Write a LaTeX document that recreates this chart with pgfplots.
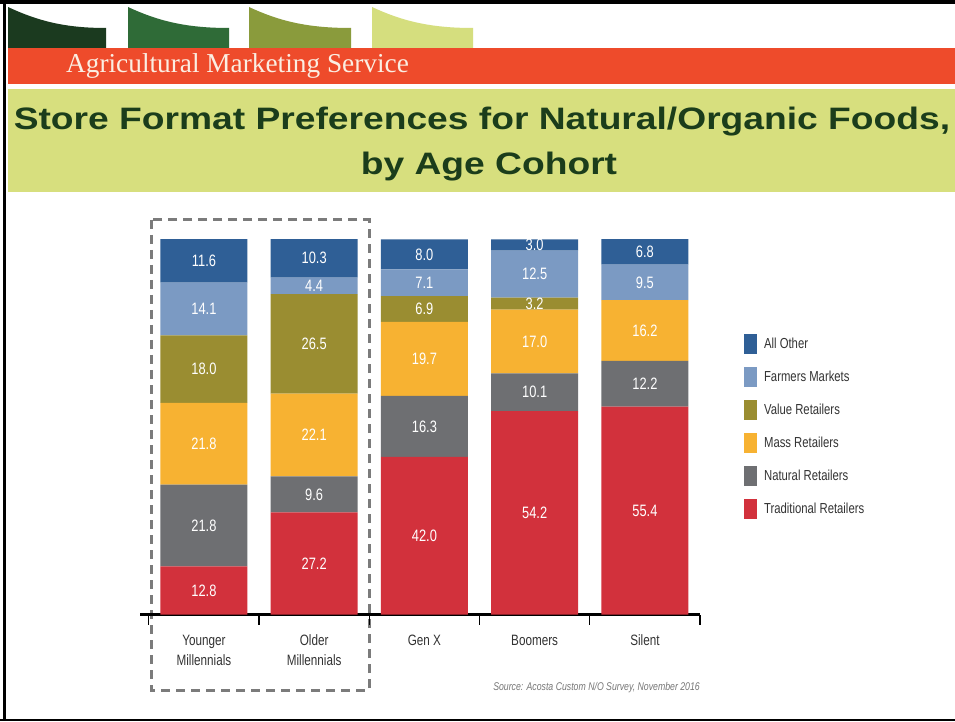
\documentclass[border=0pt]{standalone}
\usepackage{fontspec}
\setmainfont{Liberation Sans}
\newfontfamily\serifhead{Liberation Serif}
\newfontfamily\cond[FakeStretch=0.78]{Liberation Sans}
\newfontfamily\titlefont[FakeStretch=1.2]{Liberation Sans}
\usepackage{pgfplots}
\pgfplotsset{compat=1.18}
\definecolor{gA}{HTML}{1B3A1F}
\definecolor{gB}{HTML}{2F6B37}
\definecolor{gC}{HTML}{8A9B3C}
\definecolor{gD}{HTML}{D5DE7E}
\definecolor{bandorange}{HTML}{EE4B2B}
\definecolor{titleband}{HTML}{D7DF7E}
\definecolor{titlegreen}{HTML}{1B3D1B}
\definecolor{allother}{HTML}{2F5F96}
\definecolor{farmers}{HTML}{7B9AC3}
\definecolor{valuer}{HTML}{9A8D31}
\definecolor{massr}{HTML}{F7B232}
\definecolor{naturalr}{HTML}{6E6F72}
\definecolor{tradr}{HTML}{D2313C}
\definecolor{labelgray}{HTML}{333333}
\definecolor{dashgray}{HTML}{7B7B7B}
\definecolor{cream}{HTML}{FBEEE2}
\definecolor{srcgray}{HTML}{777777}
\begin{document}
\begin{tikzpicture}[x=1pt,y=1pt]
\useasboundingbox (0,0) rectangle (955,721);
\fill[white] (0,0) rectangle (955,721);
% header shapes
\fill[gA] (8,673) -- (8,714) .. controls (38,700) and (65,693) .. (106,693) -- (106,673) -- cycle;
\fill[gB] (128,673) -- (128,714) .. controls (158,700) and (186,693) .. (229,693) -- (229,673) -- cycle;
\fill[gC] (249,673) -- (249,714) .. controls (279,700) and (307,693) .. (351,693) -- (351,673) -- cycle;
\fill[gD] (372,673) -- (372,714) .. controls (402,700) and (430,693) .. (473,693) -- (473,673) -- cycle;
\fill[bandorange] (8,637) rectangle (955,673);
\fill[titleband] (8,529) rectangle (955,632);
\node[anchor=base west, inner sep=0pt, text=cream, font=\serifhead\fontsize{27.3}{30}\selectfont] at (66,648) {Agricultural Marketing Service};
\node[anchor=base, inner sep=0pt, text=titlegreen, font=\titlefont\bfseries\fontsize{31}{36}\selectfont] at (482,591) {Store Format Preferences for Natural/Organic Foods,};
\node[anchor=base, inner sep=0pt, text=titlegreen, font=\titlefont\bfseries\fontsize{31}{36}\selectfont] at (489,546) {by Age Cohort};
% borders
\fill[black] (0,717) rectangle (955,721);
\fill[black] (3,0) rectangle (6,721);
\fill[black] (0,0) rectangle (955,2.5);
% dashed box
\draw[dashgray, line width=3pt, dash pattern=on 9pt off 6pt] (151,501) rectangle (369,31);
\begin{axis}[
  at={(140pt,106.5pt)}, anchor=south west,
  scale only axis, width=560pt, height=375.5pt,
  xmin=-0.58, xmax=4.5, ymin=0, ymax=100.1,
  ybar stacked, bar width=0.79,
  axis x line=bottom, axis y line=none,
  x axis line style={line width=3pt, -},
  xtick={0,1,2,3,4},
  xticklabels={{Younger\\Millennials},{Older\\Millennials},{Gen X},{Boomers},{Silent}},
  major tick length=0pt,
  minor xtick={-0.5,0.5,1.5,2.5,3.5,4.5},
  minor tick length=10pt, tick align=outside,
  minor tick style={line width=1.2pt, black},
  xticklabel style={align=center, text=labelgray, font=\cond\fontsize{15}{20}\selectfont, yshift=-17pt},
  point meta=explicit symbolic,
  nodes near coords,
  every node near coord/.append style={anchor=center, text=white, font=\cond\fontsize{16.5}{18}\selectfont},
  legend image code/.code={\fill[#1] (0pt,-10pt) rectangle (13pt,10pt);},
  reverse legend,
  legend style={at={(1.073,0.752)}, anchor=north west, draw=none, fill=none,
    font=\cond\fontsize{14.5}{16}\selectfont, text=labelgray, row sep=13pt, cells={anchor=west},
    /tikz/every odd column/.append style={column sep=5pt}},
]
\addplot[fill=tradr, draw=none] coordinates {(0,12.8)[12.8] (1,27.2)[27.2] (2,42.0)[42.0] (3,54.2)[54.2] (4,55.4)[55.4]};
\addplot[fill=naturalr, draw=none] coordinates {(0,21.8)[21.8] (1,9.6)[9.6] (2,16.3)[16.3] (3,10.1)[10.1] (4,12.2)[12.2]};
\addplot[fill=massr, draw=none] coordinates {(0,21.8)[21.8] (1,22.1)[22.1] (2,19.7)[19.7] (3,17.0)[17.0] (4,16.2)[16.2]};
\addplot[fill=valuer, draw=none] coordinates {(0,18.0)[18.0] (1,26.5)[26.5] (2,6.9)[6.9] (3,3.2)[3.2] (4,0)[{}]};
\addplot[fill=farmers, draw=none] coordinates {(0,14.1)[14.1] (1,4.4)[4.4] (2,7.1)[7.1] (3,12.5)[12.5] (4,9.5)[9.5]};
\addplot[fill=allother, draw=none] coordinates {(0,11.6)[11.6] (1,10.3)[10.3] (2,8.0)[8.0] (3,3.0)[3.0] (4,6.8)[6.8]};
\legend{Traditional Retailers, Natural Retailers, Mass Retailers, Value Retailers, Farmers Markets, All Other}
\end{axis}
\node[anchor=base east, inner sep=0pt, text=srcgray, font=\cond\itshape\fontsize{11.2}{14}\selectfont] at (700,31) {Source: Acosta Custom N/O Survey, November 2016};
\end{tikzpicture}
\end{document}
